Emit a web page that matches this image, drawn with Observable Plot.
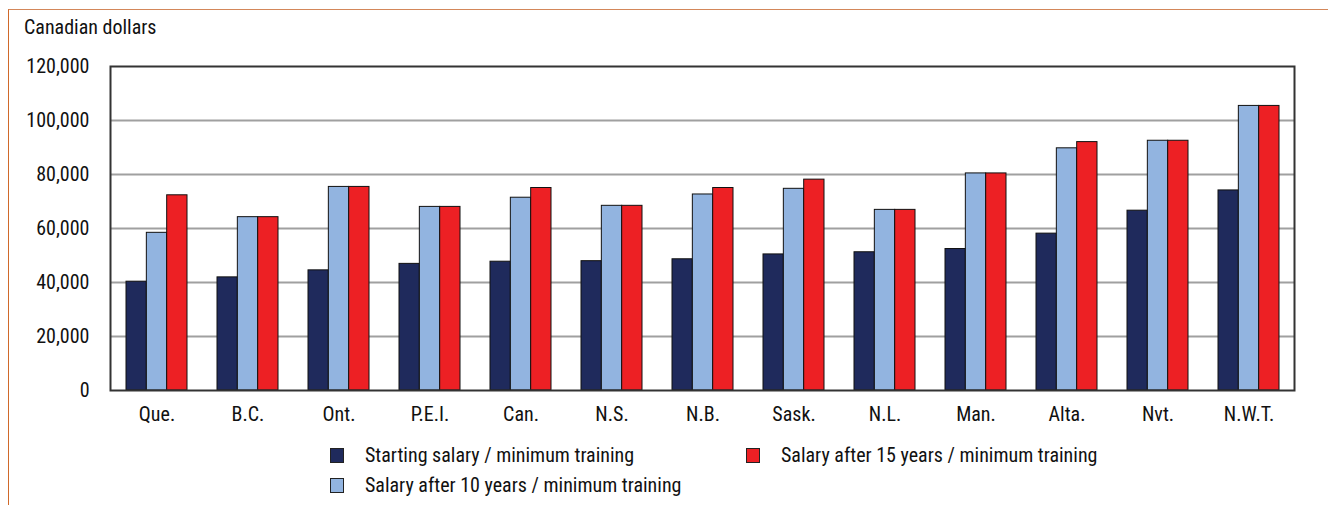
<!DOCTYPE html>
<html>
<head>
<meta charset="utf-8">
<script src="https://cdn.jsdelivr.net/npm/d3@7"></script>
<script src="https://cdn.jsdelivr.net/npm/@observablehq/plot@0.6"></script>
<style>
  html, body { margin: 0; padding: 0; background: #fff; }
  body { width: 1328px; height: 505px; position: relative; overflow: hidden;
         font-family: "Liberation Sans Narrow", "Arial Narrow", "Roboto Condensed", "Liberation Sans", sans-serif; color: #111; }
  #border { position: absolute; left: 8px; top: 9px; width: 1400px; height: 600px;
            border-top: 1.5px solid #d3875a; border-left: 1.5px solid #d0692a; }
  #title { position: absolute; left: 24px; top: 15px; font-size: 20px; }
  #chart { position: absolute; left: 0; top: 0; }
  .leg { position: absolute; font-size: 20px; white-space: nowrap; display: flex; align-items: center; }
  .sw { width: 14px; height: 15px; border: 1px solid #222; margin-right: 21px; box-sizing: border-box; }
</style>
</head>
<body>
<div id="border"></div>
<div id="title">Canadian dollars</div>
<div id="chart"></div>
<div id="legend"></div>
<script>
const provinces = ["Que.", "B.C.", "Ont.", "P.E.I.", "Can.", "N.S.", "N.B.", "Sask.", "N.L.", "Man.", "Alta.", "Nvt.", "N.W.T."];
const startingSalary = [40300, 41900, 44500, 46900, 47700, 47900, 48600, 50400, 51200, 52400, 58100, 66600, 74100];
const after10Years   = [58400, 64200, 75400, 68000, 71400, 68400, 72600, 74700, 66900, 80400, 89700, 92500, 105400];
const after15Years   = [72300, 64200, 75400, 68000, 75000, 68400, 75000, 78100, 66900, 80400, 92000, 92500, 105400];
const seriesNames = ["Starting salary / minimum training", "Salary after 10 years / minimum training", "Salary after 15 years / minimum training"];
const seriesColors = ["#1f2a5c", "#92b4e0", "#ed2024"];
const yTicks = [0, 20000, 40000, 60000, 80000, 100000, 120000];

const seriesValues = [startingSalary, after10Years, after15Years];
const rows = provinces.map((p, i) => ({prov: p, s0: startingSalary[i], s1: after10Years[i], s2: after15Years[i]}));

const W = 1328, H = 430;
const mL = 110, mR = 34, mT = 66, mB = 40;
const step = (W - mL - mR) / provinces.length;
const padInner = 0.33;
const bw = step * (1 - padInner);
const barW = bw / 3;

const barMarks = seriesValues.map((vals, k) =>
  Plot.barY(rows, {
    x: "prov",
    y: "s" + k,
    fill: seriesColors[k],
    stroke: "#111",
    strokeWidth: 1,
    insetLeft: barW * k,
    insetRight: barW * (2 - k)
  })
);

const chart = Plot.plot({
  width: W,
  height: H,
  marginLeft: mL,
  marginRight: mR,
  marginTop: mT,
  marginBottom: mB,
  style: {fontFamily: '"Liberation Sans Narrow", "Arial Narrow", "Roboto Condensed", sans-serif', fontSize: "20px", color: "#111", background: "transparent"},
  x: {domain: provinces, paddingInner: padInner, paddingOuter: padInner / 2, label: null, tickSize: 0, tickPadding: 16},
  y: {domain: [0, 120000], ticks: yTicks, tickFormat: d3.format(","), label: null, tickSize: 0, tickPadding: 21},
  marks: [
    Plot.ruleY(yTicks.filter(d => d > 0 && d < 120000), {stroke: "#a0a0a0", strokeWidth: 2, strokeOpacity: 1}),
    ...barMarks,
    Plot.frame({stroke: "#333", strokeWidth: 2})
  ]
});
document.getElementById("chart").appendChild(chart);

const legend = document.getElementById("legend");
const legPos = [[330, 443], [330, 473], [746, 443]];
seriesNames.forEach((name, k) => {
  const d = document.createElement("div");
  d.className = "leg";
  d.style.left = legPos[k][0] + "px";
  d.style.top = legPos[k][1] + "px";
  const sw = document.createElement("div");
  sw.className = "sw";
  sw.style.background = seriesColors[k];
  d.appendChild(sw);
  const t = document.createElement("span");
  t.textContent = name;
  d.appendChild(t);
  legend.appendChild(d);
});
</script>
</body>
</html>
